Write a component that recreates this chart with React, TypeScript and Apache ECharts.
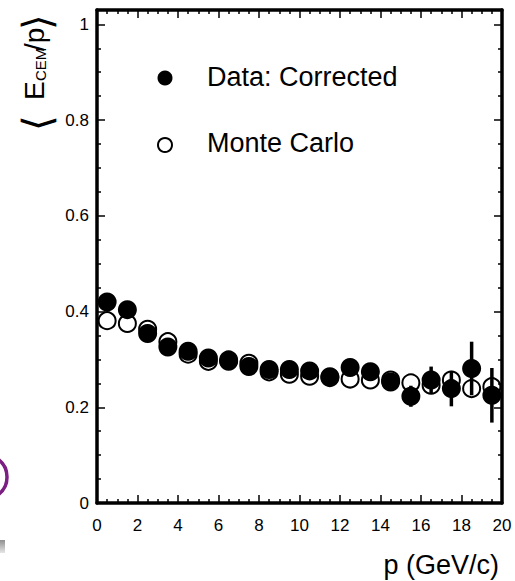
import React, { useEffect, useRef } from "react";
import * as echarts from "echarts";

const pBins = [0.5, 1.5, 2.5, 3.5, 4.5, 5.5, 6.5, 7.5, 8.5, 9.5, 10.5, 11.5, 12.5, 13.5, 14.5, 15.5, 16.5, 17.5, 18.5, 19.5];
const dataCorrected = [0.420, 0.404, 0.354, 0.326, 0.317, 0.303, 0.296, 0.285, 0.279, 0.279, 0.276, 0.264, 0.283, 0.274, 0.253, 0.223, 0.257, 0.239, 0.281, 0.225];
const dataErrors = [0.004, 0.004, 0.004, 0.004, 0.004, 0.004, 0.004, 0.005, 0.005, 0.006, 0.007, 0.008, 0.009, 0.010, 0.015, 0.022, 0.028, 0.037, 0.056, 0.057];
const monteCarlo = [0.381, 0.375, 0.363, 0.337, 0.311, 0.296, 0.299, 0.292, 0.274, 0.269, 0.265, 0.262, 0.259, 0.257, 0.257, 0.251, 0.246, 0.257, 0.239, 0.243];
const legendLabels = ["Data: Corrected", "Monte Carlo"];
const xTitle = "p (GeV/c)";

const FONT = "Liberation Sans, Arial, Helvetica, sans-serif";

export default function App() {
  const ref = useRef<HTMLDivElement>(null);
  useEffect(() => {
    const chart = echarts.init(ref.current!, null, { renderer: "svg" });
    const axisCommon = {
      type: "value" as const,
      splitLine: { show: false },
      axisLine: { show: true, onZero: false, lineStyle: { color: "#000", width: 3.5 } },
      axisTick: { show: true, inside: true, length: 8, lineStyle: { color: "#000", width: 1.5 } },
      minorTick: { show: true, splitNumber: 4, length: 4, lineStyle: { color: "#000", width: 1.5 } },
    };
    const yFmt = (v: number) => {
      if (Math.abs(v * 5 - Math.round(v * 5)) > 1e-6) return "";
      return String(+v.toFixed(1));
    };
    const option: any = {
      animation: false,
      backgroundColor: "#fff",
      grid: { left: 97, right: 13, top: 10, bottom: 78 },
      xAxis: [
        {
          ...axisCommon,
          min: 0, max: 20, interval: 2, position: "bottom",
          axisLabel: { show: true, fontSize: 17, color: "#000", fontFamily: FONT, margin: 14 },
        },
        {
          ...axisCommon,
          min: 0, max: 20, interval: 2, position: "top",
          axisLabel: { show: false },
        },
      ],
      yAxis: [
        {
          ...axisCommon,
          min: 0, max: 1.03, interval: 0.2, position: "left",
          axisLabel: { show: true, fontSize: 17, color: "#000", fontFamily: FONT, margin: 8, formatter: yFmt },
        },
        {
          ...axisCommon,
          min: 0, max: 1.03, interval: 0.2, position: "right",
          axisLabel: { show: false },
        },
      ],
      series: [
        {
          name: legendLabels[1],
          type: "scatter",
          symbol: "circle",
          symbolSize: 17,
          z: 2,
          itemStyle: { color: "rgba(255,255,255,0)", borderColor: "#000", borderWidth: 2, opacity: 1 },
          emphasis: { disabled: true },
          data: pBins.map((x, i) => [x, monteCarlo[i]]),
        },
        {
          name: "errors",
          type: "custom",
          z: 3,
          renderItem: (params: any, api: any) => {
            const x = api.value(0);
            const lo = api.coord([x, api.value(1)]);
            const hi = api.coord([x, api.value(2)]);
            return {
              type: "line",
              shape: { x1: lo[0], y1: lo[1], x2: hi[0], y2: hi[1] },
              style: { stroke: "#000", lineWidth: 3.5 },
            };
          },
          data: pBins.map((x, i) => [x, dataCorrected[i] - dataErrors[i], dataCorrected[i] + dataErrors[i]]),
        },
        {
          name: legendLabels[0],
          type: "scatter",
          symbol: "circle",
          symbolSize: 19,
          z: 4,
          itemStyle: { color: "#000", opacity: 1 },
          emphasis: { disabled: true },
          data: pBins.map((x, i) => [x, dataCorrected[i]]),
        },
      ],
      graphic: [
        {
          type: "group",
          x: 37,
          y: 131,
          rotation: Math.PI / 2,
          children: [
            { type: "text", x: 0, y: 0, style: { text: "⟨", fontSize: 40, fontFamily: "DejaVu Sans", fontWeight: 200, verticalAlign: "middle", fill: "#000" } },
            { type: "text", x: 31, y: -3, style: { text: "E", fontSize: 28, fontFamily: FONT, verticalAlign: "middle", fill: "#000" } },
            { type: "text", x: 50, y: 3, style: { text: "CEM", fontSize: 15, fontFamily: FONT, verticalAlign: "middle", fill: "#000" } },
            { type: "text", x: 80, y: -3, style: { text: "/p", fontSize: 28, fontFamily: FONT, verticalAlign: "middle", fill: "#000" } },
            { type: "text", x: 101, y: 0, style: { text: "⟩", fontSize: 40, fontFamily: "DejaVu Sans", fontWeight: 200, verticalAlign: "middle", fill: "#000" } },
          ],
        },
        { type: "circle", shape: { cx: 165, cy: 78, r: 7.5 }, style: { fill: "#000" } },
        { type: "text", x: 207, y: 77, style: { text: legendLabels[0], fontSize: 27, fontFamily: FONT, verticalAlign: "middle", fill: "#000" } },
        { type: "circle", shape: { cx: 165, cy: 145, r: 7 }, style: { fill: "#fff", stroke: "#000", lineWidth: 2 } },
        { type: "text", x: 207, y: 143, style: { text: legendLabels[1], fontSize: 27, fontFamily: FONT, verticalAlign: "middle", fill: "#000" } },
        { type: "text", x: 499, y: 565, style: { text: xTitle, fontSize: 27, fontFamily: FONT, align: "right", verticalAlign: "middle", fill: "#000" } },
        { type: "arc", shape: { cx: -15, cy: 477, r: 22, startAngle: -1.0, endAngle: 1.0 }, style: { stroke: "#7b1f82", lineWidth: 3.5, fill: "none" } },
        {
          type: "rect",
          shape: { x: 0, y: 540, width: 5, height: 13 },
          style: {
            fill: new echarts.graphic.LinearGradient(0, 0, 0, 1, [
              { offset: 0, color: "#8f8f8f" },
              { offset: 1, color: "#e6e6e6" },
            ]),
          },
        },
      ],
    };
    chart.setOption(option);
    return () => chart.dispose();
  }, []);
  return (
    <div
      ref={ref}
      style={{ position: "fixed", left: 0, top: 0, width: 515, height: 581, background: "#fff" }}
    />
  );
}
